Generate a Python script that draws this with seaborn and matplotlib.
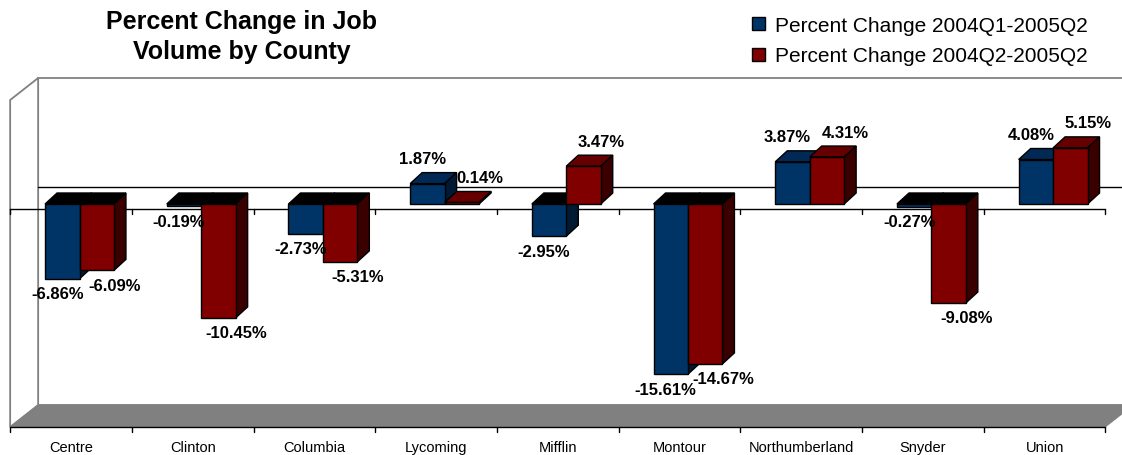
"""Percent change in job volume by county, Excel-style 3D column chart."""

import matplotlib

matplotlib.use("Agg")
import matplotlib.pyplot as plt
import pandas as pd
import seaborn as sns
from matplotlib.patches import Patch, Polygon

COUNTIES = ["Centre", "Clinton", "Columbia", "Lycoming", "Mifflin",
            "Montour", "Northumberland", "Snyder", "Union"]
SERIES = ["Percent Change 2004Q1-2005Q2", "Percent Change 2004Q2-2005Q2"]
CHANGE_Q1 = [-6.86, -0.19, -2.73, 1.87, -2.95, -15.61, 3.87, -0.27, 4.08]
CHANGE_Q2 = [-6.09, -10.45, -5.31, 0.14, 3.47, -14.67, 4.31, -9.08, 5.15]
Y_MIN, Y_MAX = -20, 10

FRONT_COLORS = ["#003366", "#800000"]
TOP_COLORS = ["#002a55", "#660000"]
SIDE_COLORS = ["#001a33", "#3a0000"]
WALL_GRAY = "#808080"

W, H = 1122, 456
PX_X = 121.7   # pixels per category
PX_Y = 10.9    # pixels per percent point
FRONT = (-8.5, -5)   # front plane relative to bar fronts, in pixels
BACK = (19.5, 17)    # back wall relative to bar fronts
DEPTH = (12, 11)     # bar depth
LABEL_DX = [-5, 18]


def shift(x, v, px, py):
    return x + px / PX_X, v + py / PX_Y


def fp(x, v):
    return shift(x, v, *FRONT)


def bp(x, v):
    return shift(x, v, *BACK)


sns.set_style("white")
plt.rcParams["font.family"] = ["Liberation Sans", "DejaVu Sans"]
plt.rcParams["text.color"] = "black"

df = pd.DataFrame({
    "County": COUNTIES * 2,
    "Series": [SERIES[0]] * len(COUNTIES) + [SERIES[1]] * len(COUNTIES),
    "Change": CHANGE_Q1 + CHANGE_Q2,
})

fig = plt.figure(figsize=(W / 100, H / 100), dpi=100)
ax = fig.add_axes([0, 0, 1, 1])

sns.barplot(data=df, x="County", y="Change", hue="Series", palette=FRONT_COLORS,
            saturation=1, width=0.566, edgecolor="black", linewidth=1, errorbar=None,
            legend=False, ax=ax)

xl, xr = -0.5, len(COUNTIES) - 0.5

# walls and floor
ax.add_patch(Polygon([bp(xl, Y_MIN), bp(xl, Y_MAX), bp(xr, Y_MAX), bp(xr, Y_MIN)],
                     facecolor="white", edgecolor=WALL_GRAY, lw=1.3, zorder=0))
ax.add_patch(Polygon([fp(xl, Y_MIN), fp(xl, Y_MAX), bp(xl, Y_MAX), bp(xl, Y_MIN)],
                     facecolor="white", edgecolor=WALL_GRAY, lw=1.3, zorder=0.5))
ax.add_patch(Polygon([fp(xl, Y_MIN), fp(xr, Y_MIN), bp(xr, Y_MIN), bp(xl, Y_MIN)],
                     facecolor=WALL_GRAY, edgecolor=WALL_GRAY, lw=0.5, zorder=0.6))

# zero lines and category axis
for a, b in [(bp(xl, 0), bp(xr, 0)), (fp(xl, 0), fp(xr, 0)), (fp(xl, Y_MIN), fp(xr, Y_MIN))]:
    ax.plot([a[0], b[0]], [a[1], b[1]], color="black", lw=1, zorder=1)
for base in (0, Y_MIN):
    for k in range(len(COUNTIES) + 1):
        x, v = fp(k - 0.5, base)
        ax.plot([x, x], [v, v - 5 / PX_Y], color="black", lw=1, zorder=1)

for k, name in enumerate(COUNTIES):
    x, v = fp(k, Y_MIN)
    ax.text(x, v - 20 / PX_Y, name, ha="center", va="center", fontsize=10.5)

# 3D faces and value labels
for h, container in enumerate(ax.containers):
    for patch in container:
        x0, w, val = patch.get_x(), patch.get_width(), patch.get_height()
        top, bot = max(val, 0), min(val, 0)
        patch.set_zorder(3 + 2 * h)
        top_color = TOP_COLORS[h] if val > 0 else "black"
        ax.add_patch(Polygon([(x0, top), (x0 + w, top), shift(x0 + w, top, *DEPTH),
                              shift(x0, top, *DEPTH)],
                             facecolor=top_color, edgecolor="black", lw=1, zorder=2 + 2 * h))
        ax.add_patch(Polygon([(x0 + w, bot), (x0 + w, top), shift(x0 + w, top, *DEPTH),
                              shift(x0 + w, bot, *DEPTH)],
                             facecolor=SIDE_COLORS[h], edgecolor="black", lw=1, zorder=2 + 2 * h))
        lx = x0 + w / 2 + LABEL_DX[h] / PX_X
        ly = top + 25 / PX_Y if val > 0 else bot - 15 / PX_Y
        ax.text(lx, ly, f"{val:.2f}%", ha="center", va="center", fontsize=12,
                fontweight="bold", zorder=10)

ax.set_xlim(-79.5 / PX_X, (W - 79.5) / PX_X)
ax.set_ylim((205 - H) / PX_Y, 205 / PX_Y)
ax.set_axis_off()

fig.text(242 / W, 1 - 37 / H, "Percent Change in Job\nVolume by County", ha="center",
         va="center", fontsize=18, fontweight="bold", linespacing=1.3)

handles = [Patch(facecolor=c, edgecolor="black") for c in FRONT_COLORS]
fig.legend(handles, SERIES, loc="upper left", bbox_to_anchor=(752 / W, 1 - 17 / H),
           frameon=False, fontsize=15, handlelength=0.6, handleheight=0.6,
           handletextpad=0.5, labelspacing=0.55, borderpad=0, borderaxespad=0)

fig.savefig("out.png", dpi=100)
